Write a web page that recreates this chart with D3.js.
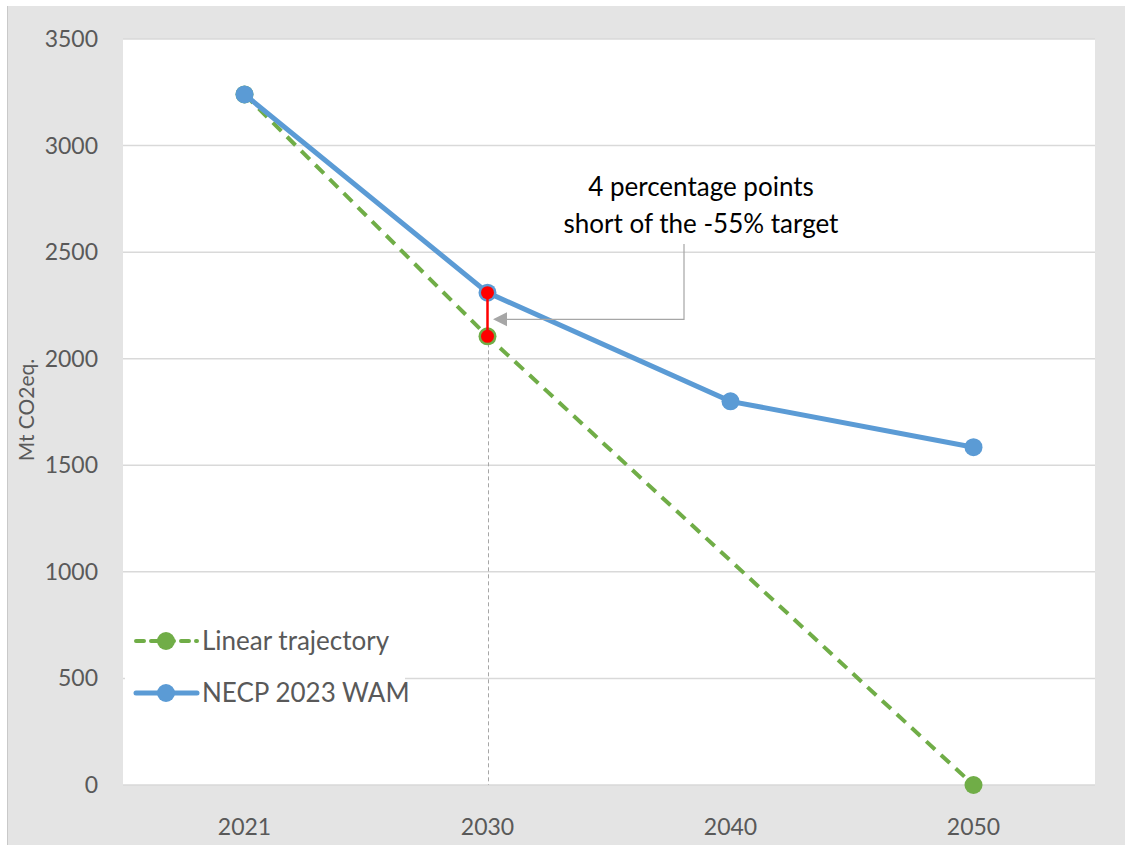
<!DOCTYPE html>
<html>
<head>
<meta charset="utf-8">
<script src="https://cdn.jsdelivr.net/npm/d3@7"></script>
<style>
  body { margin: 0; background: #fff; }
  svg { display: block; }
  text { font-family: Lato, "Open Sans", sans-serif; }
</style>
</head>
<body>
<div id="chart"></div>
<script>
// data
const years = ['2021', '2030', '2040', '2050'];
const linearValues = [3240, 2105, null, 0];
const necpValues = [3240, 2310, 1800, 1585];
const yTicks = [0, 500, 1000, 1500, 2000, 2500, 3000, 3500];
const seriesNames = ['Linear trajectory', 'NECP 2023 WAM'];
const annotationLines = ['4 percentage points', 'short of the -55% target'];

const width = 1125, height = 845;
const margin = { left: 123, right: 30, top: 39, bottom: 60 };

let svg = d3.select('#chart').append('svg')
    .attr('width', width)
    .attr('height', height);

// gray frame
svg.append('rect')
    .attr('x', 7).attr('y', 6)
    .attr('width', width - 7).attr('height', height - 6)
    .attr('fill', '#e4e4e4');
svg.append('line')
    .attr('x1', 7.5).attr('x2', 7.5)
    .attr('y1', 6).attr('y2', height)
    .attr('stroke', '#c9c9c9');

let x = d3.scaleBand()
    .domain(years)
    .range([margin.left, width - margin.right]);

let y = d3.scaleLinear()
    .domain([0, 3500])
    .range([height - margin.bottom, margin.top]);

// plot area
svg.append('rect')
    .attr('x', margin.left).attr('y', margin.top)
    .attr('width', width - margin.left - margin.right)
    .attr('height', y(0) - margin.top)
    .attr('fill', '#fff');

// gridlines
svg.append('g')
    .selectAll('line')
    .data(yTicks)
    .enter()
    .append('line')
    .attr('x1', margin.left)
    .attr('x2', width - margin.right)
    .attr('y1', d => y(d))
    .attr('y2', d => y(d))
    .attr('stroke', '#d9d9d9')
    .attr('stroke-width', 1.5);

// y labels
svg.append('g')
    .selectAll('text')
    .data(yTicks)
    .enter()
    .append('text')
    .attr('x', 98)
    .attr('y', d => y(d))
    .attr('dy', '0.35em')
    .attr('text-anchor', 'end')
    .attr('fill', '#595959')
    .style('font-size', '23px')
    .text(d => d);

// y title
svg.append('text')
    .attr('transform', 'translate(34, 410) rotate(-90)')
    .attr('text-anchor', 'middle')
    .attr('fill', '#595959')
    .style('font-size', '21px')
    .text('Mt CO2eq.');

// x labels
svg.append('g')
    .selectAll('text')
    .data(years)
    .enter()
    .append('text')
    .attr('x', d => x(d) + x.bandwidth() / 2)
    .attr('y', 827)
    .attr('dy', '0.35em')
    .attr('text-anchor', 'middle')
    .attr('fill', '#595959')
    .style('font-size', '23px')
    .text(d => d);

const cx = d => x(d) + x.bandwidth() / 2;

// dashed guide at 2030
svg.append('line')
    .attr('x1', cx('2030') + 1).attr('x2', cx('2030') + 1)
    .attr('y1', y(linearValues[1])).attr('y2', y(0))
    .attr('stroke', '#a6a6a6')
    .attr('stroke-width', 1)
    .attr('stroke-dasharray', '4,3');

// linear trajectory
let linearPts = years.map((yr, i) => ({ yr, v: linearValues[i] })).filter(d => d.v !== null);
let line = d3.line().x(d => cx(d.yr)).y(d => y(d.v));

svg.append('path')
    .datum(linearPts)
    .attr('d', line)
    .attr('fill', 'none')
    .attr('stroke', '#70ad47')
    .attr('stroke-width', 4)
    .attr('stroke-dasharray', '12,8');

svg.append('g')
    .selectAll('circle')
    .data(linearPts)
    .enter()
    .append('circle')
    .attr('cx', d => cx(d.yr))
    .attr('cy', d => y(d.v))
    .attr('r', 9)
    .attr('fill', '#70ad47');

// NECP
let necpPts = years.map((yr, i) => ({ yr, v: necpValues[i] }));
svg.append('path')
    .datum(necpPts)
    .attr('d', line)
    .attr('fill', 'none')
    .attr('stroke', '#5b9bd5')
    .attr('stroke-width', 5);

svg.append('g')
    .selectAll('circle')
    .data(necpPts)
    .enter()
    .append('circle')
    .attr('cx', d => cx(d.yr))
    .attr('cy', d => y(d.v))
    .attr('r', 9)
    .attr('fill', '#5b9bd5');

// red gap marker at 2030
let gap = [linearValues[1], necpValues[1]];
svg.append('line')
    .attr('x1', cx('2030')).attr('x2', cx('2030'))
    .attr('y1', y(gap[0])).attr('y2', y(gap[1]))
    .attr('stroke', '#ff0000')
    .attr('stroke-width', 2.5);
svg.append('g')
    .selectAll('circle')
    .data(gap)
    .enter()
    .append('circle')
    .attr('cx', cx('2030'))
    .attr('cy', d => y(d))
    .attr('r', 6.5)
    .attr('fill', '#ff0000');

// annotation
svg.append('g')
    .selectAll('text')
    .data(annotationLines)
    .enter()
    .append('text')
    .attr('x', 701)
    .attr('y', (d, i) => 187 + i * 37)
    .attr('dy', '0.35em')
    .attr('text-anchor', 'middle')
    .attr('fill', '#000')
    .style('font-size', '26px')
    .text(d => d);

let calloutY = y(gap[0]) - 17;
svg.append('path')
    .attr('d', `M684,244 V${calloutY} H500`)
    .attr('fill', 'none')
    .attr('stroke', '#a6a6a6')
    .attr('stroke-width', 1.2);
svg.append('path')
    .attr('d', `M493,${calloutY} L507,${calloutY - 7} L507,${calloutY + 7} Z`)
    .attr('fill', '#a6a6a6');

// legend
let legend = svg.append('g');
legend.append('rect')
    .attr('x', 125).attr('y', 615)
    .attr('width', 280).attr('height', 100)
    .attr('fill', '#fff');

let legendItems = legend.selectAll('g.item')
    .data(seriesNames)
    .enter()
    .append('g')
    .attr('class', 'item')
    .attr('transform', (d, i) => `translate(0, ${641 + i * 52})`);

legendItems.append('line')
    .attr('x1', 136).attr('x2', 197)
    .attr('y1', 0).attr('y2', 0)
    .attr('stroke', (d, i) => i === 0 ? '#70ad47' : '#5b9bd5')
    .attr('stroke-width', (d, i) => i === 0 ? 4 : 5)
    .attr('stroke-dasharray', (d, i) => i === 0 ? '8,7' : null)
    .attr('stroke-linecap', 'round');

legendItems.append('circle')
    .attr('cx', 166).attr('cy', 0)
    .attr('r', 9)
    .attr('fill', (d, i) => i === 0 ? '#70ad47' : '#5b9bd5');

legendItems.append('text')
    .attr('x', 202)
    .attr('y', 0)
    .attr('dy', '0.35em')
    .attr('fill', '#595959')
    .style('font-size', '26px')
    .text(d => d);
</script>
</body>
</html>
